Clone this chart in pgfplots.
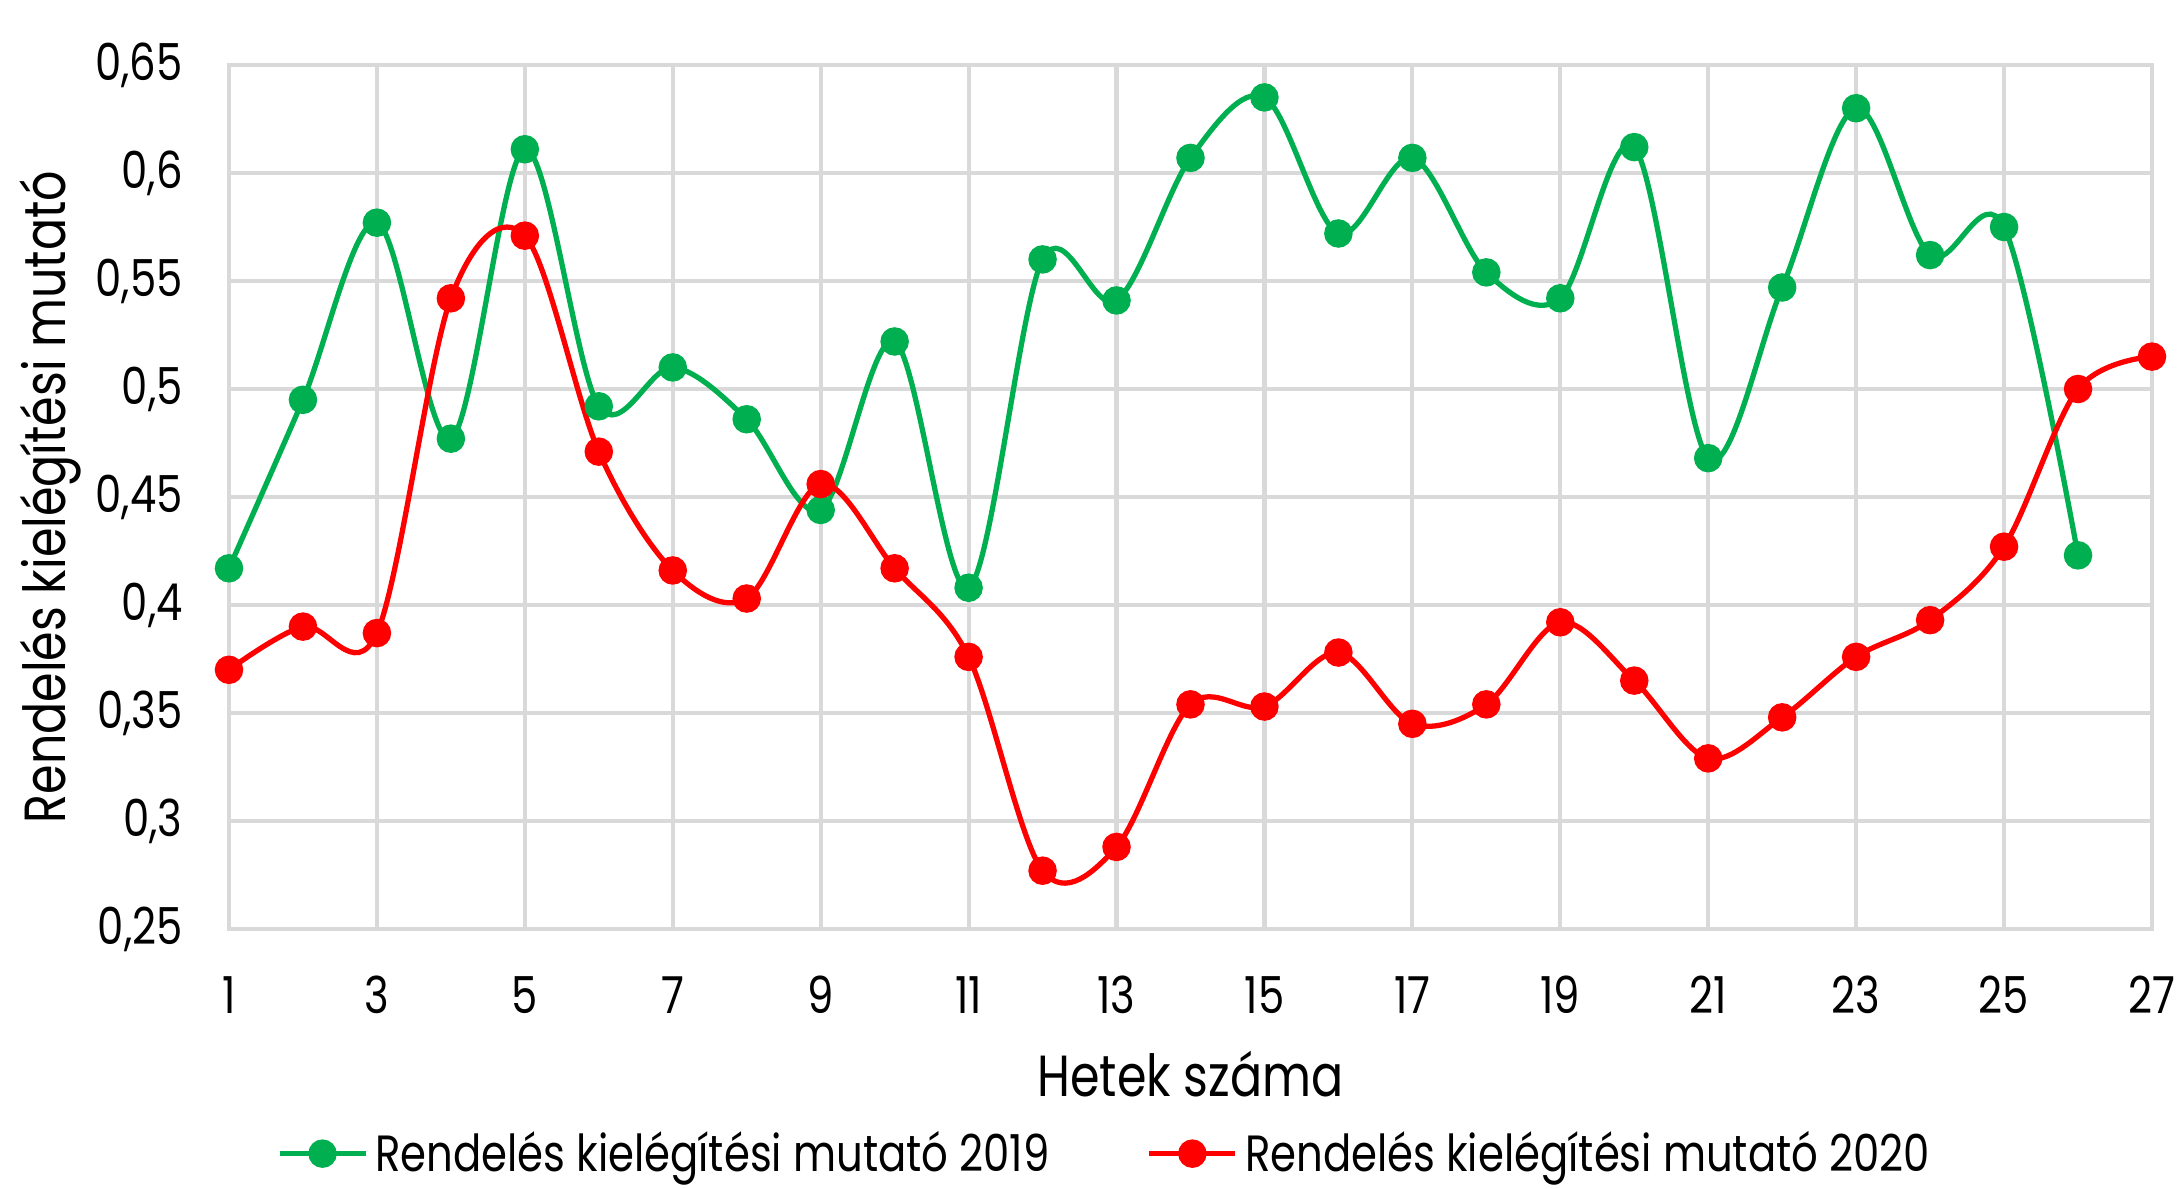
\documentclass[border=0pt]{standalone}
\usepackage{fontspec}
\setmainfont{Poppins}[FakeStretch=0.82]
\usepackage{pgfplots}
\pgfplotsset{compat=1.18}
\definecolor{cgreen}{HTML}{00B050}
\definecolor{cred}{HTML}{FF0000}
\definecolor{cgrid}{HTML}{D9D9D9}
\begin{document}
\begin{tikzpicture}
\path[use as bounding box] (-2.29,-2.59) rectangle (19.52,9.29);
\clip (-2.29,-2.59) rectangle (19.52,9.29);
\begin{axis}[
  scale only axis,
  width=19.23cm, height=8.64cm,
  at={(0,0)}, anchor=south west,
  xmin=1, xmax=27, ymin=0.25, ymax=0.65,
  xtick={1,3,...,27},
  ytick={0.25,0.3,...,0.65},
  yticklabels={0{,}25,0{,}3,0{,}35,0{,}4,0{,}45,0{,}5,0{,}55,0{,}6,0{,}65},
  grid=major,
  major grid style={cgrid, line width=1.2pt},
  axis line style={cgrid, line width=1.4pt},
  tick style={draw=none},
  /pgf/number format/assume math mode=true,
  ticklabel style={font=\fontsize{14.5}{16}\selectfont, text=black},
  xticklabel shift=0.35cm,
  yticklabel shift=0.34cm,
  xlabel={Hetek száma},
  ylabel={Rendelés kielégítési mutató},
  every axis x label/.style={at={(axis description cs:0.5,-0.168)}, anchor=center, font=\fontsize{16.5}{18}\selectfont},
  every axis y label/.style={at={(axis description cs:-0.0931,0.5)}, rotate=90, anchor=center, font=\fontsize{16.5}{18}\selectfont},
  legend style={at={(axis description cs:0.4566,-0.26)}, anchor=center, draw=none, fill=none,
    legend columns=2, font=\fontsize{14.5}{16}\selectfont,
    /tikz/every even column/.append style={column sep=0.9cm}},
  legend image code/.code={
    \draw[#1, mark=none] (0cm,0cm) -- (0.86cm,0cm);
    \draw[#1, only marks] plot coordinates {(0.43cm,0cm)};},
  every axis plot/.append style={line width=1.5pt, smooth, tension=0.55, mark=*, mark size=3.3pt},
]
\addplot[cgreen, mark options={fill=cgreen, draw=cgreen}] coordinates {
(1,0.417) (2,0.495) (3,0.577) (4,0.477) (5,0.611) (6,0.492) (7,0.510) (8,0.486)
(9,0.444) (10,0.522) (11,0.408) (12,0.560) (13,0.541) (14,0.607) (15,0.635)
(16,0.572) (17,0.607) (18,0.554) (19,0.542) (20,0.612) (21,0.468) (22,0.547)
(23,0.630) (24,0.562) (25,0.575) (26,0.423)};
\addlegendentry{Rendelés kielégítési mutató 2019}
\addplot[cred, mark options={fill=cred, draw=cred}] coordinates {
(1,0.370) (2,0.390) (3,0.387) (4,0.542) (5,0.571) (6,0.471) (7,0.416) (8,0.403)
(9,0.456) (10,0.417) (11,0.376) (12,0.277) (13,0.288) (14,0.354) (15,0.353)
(16,0.378) (17,0.345) (18,0.354) (19,0.392) (20,0.365) (21,0.329) (22,0.348)
(23,0.376) (24,0.393) (25,0.427) (26,0.500) (27,0.515)};
\addlegendentry{Rendelés kielégítési mutató 2020}
\end{axis}
\end{tikzpicture}
\end{document}
